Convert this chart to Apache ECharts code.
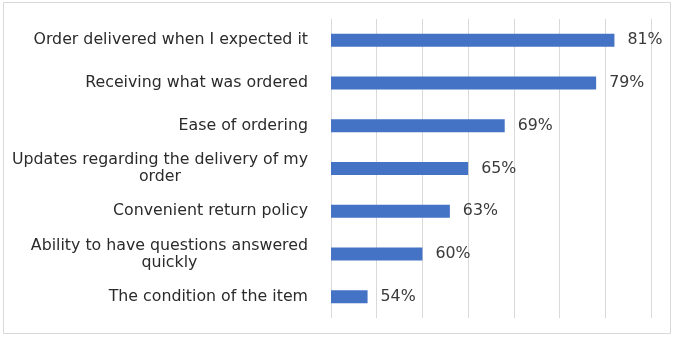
<!DOCTYPE html>
<html>
<head>
<meta charset="utf-8">
<script src="https://cdn.jsdelivr.net/npm/echarts@6/dist/echarts.min.js"></script>
<style>html,body{margin:0;padding:0;background:#fff;}#c{width:674px;height:337px;}</style>
</head>
<body>
<div id="c"></div>
<script>
var categories = [
  "Order delivered when I expected it",
  "Receiving what was ordered",
  "Ease of ordering",
  "Updates regarding the delivery of my\norder",
  "Convenient return policy",
  "Ability to have questions answered\nquickly",
  "The condition of the item"
];
var values = [81, 79, 69, 65, 63, 60, 54];

var chart = echarts.init(document.getElementById('c'));
chart.setOption({
  animation: false,
  backgroundColor: '#fff',
  graphic: [{
    type: 'rect',
    shape: { x: 3.5, y: 2.5, width: 667, height: 331 },
    style: { fill: 'none', stroke: '#d9d9d9', lineWidth: 1 },
    silent: true
  }],
  grid: { left: 331, right: 23, top: 19, bottom: 19, containLabel: false },
  xAxis: {
    type: 'value',
    min: 50, max: 85, interval: 5,
    axisLabel: { show: false },
    axisLine: { show: false },
    axisTick: { show: false },
    splitLine: { show: true, lineStyle: { color: '#d9d9d9', width: 1 } }
  },
  yAxis: {
    type: 'category',
    data: categories,
    inverse: true,
    axisLine: { show: false },
    axisTick: { show: false },
    splitLine: { show: false },
    axisLabel: {
      margin: 23,
      align: 'right',
      lineHeight: 17,
      formatter: function (v) {
        return v.split('\n').map(function (l) { return '{c|' + l + '}'; }).join('\n');
      },
      rich: {
        c: { align: 'center', fontFamily: 'DejaVu Sans', fontSize: 15.8, color: '#2b2b2b', lineHeight: 17 }
      }
    }
  },
  series: [{
    type: 'bar',
    data: values,
    barWidth: 13,
    itemStyle: { color: '#4472C4' },
    label: {
      show: true,
      position: 'right',
      distance: 13,
      formatter: '{c}%',
      fontFamily: 'DejaVu Sans',
      fontSize: 15.8,
      color: '#3a3a3a'
    }
  }]
});
</script>
</body>
</html>
